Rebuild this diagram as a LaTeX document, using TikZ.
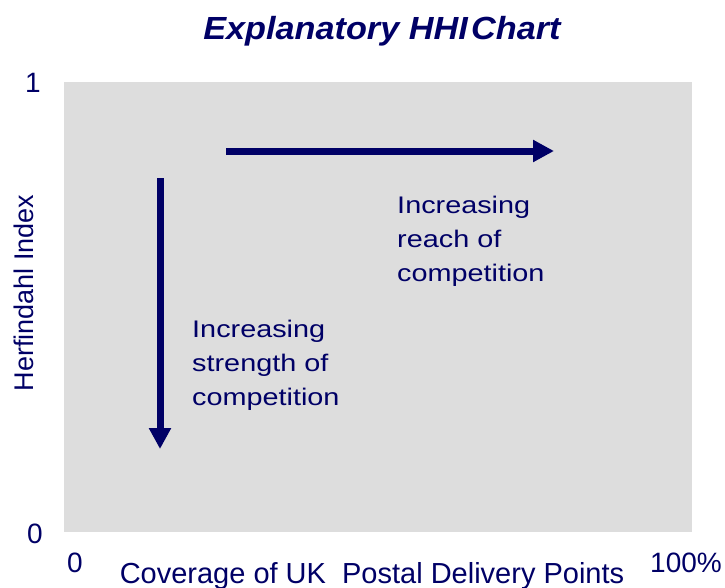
\documentclass[tikz,border=0pt]{standalone}
\usepackage{fontspec}
\setmainfont{Liberation Sans}
\usetikzlibrary{arrows.meta}
\definecolor{hhiblue}{HTML}{000066}
\definecolor{panelgrey}{HTML}{DDDDDD}
\tikzset{
    chart title/.style={font=\fontsize{32}{38}\selectfont\bfseries\itshape, text=hhiblue, inner sep=0pt, xscale=1.07},
    axis text/.style={font=\fontsize{28}{34}\selectfont, text=hhiblue, inner sep=0pt},
    note/.style={font=\fontsize{24}{34}\selectfont, text=hhiblue, align=left, inner sep=0pt, xscale=1.2, anchor=base west},
    push/.style={draw=hhiblue, line width=7pt, -{Triangle[length=21pt, width=21pt]}},
}

\begin{document}
\begin{tikzpicture}[x=1pt, y=-1pt]
    \useasboundingbox (0,0) rectangle (725,587);

    % plot area
    \fill[panelgrey] (64,82) rectangle (692,532);

    \node[chart title, anchor=base] (title) at (382,39) {Explanatory HHI\kern0.1em Chart};

    % axis ends and labels
    \node[axis text, anchor=base] (ymax) at (33,92) {1};
    \node[axis text, anchor=base] (ymin) at (35,543) {0};
    \node[axis text, anchor=base] (xmin) at (75,572) {0};
    \node[axis text, anchor=base] (xmax) at (686,572) {100\%};
    \node[axis text, font=\fontsize{29}{34}\selectfont, anchor=base] (xlabel) at (372,583) {Coverage of UK\ \ Postal Delivery Points};
    \node[axis text, font=\fontsize{27}{32}\selectfont, rotate=90, anchor=base] (ylabel) at (33,293) {Herfindahl Index};

    % the two arrows
    \coordinate (reach start) at (226,151);
    \coordinate (reach end) at (554,151);
    \draw[push] (reach start) -- (reach end);

    \coordinate (strength start) at (160,178);
    \coordinate (strength end) at (160,449);
    \draw[push] (strength start) -- (strength end);

    % base anchor sits on the last line
    \node[note] (reach) at (397,281) {Increasing\\reach of\\competition};
    \node[note] (strength) at (192,405) {Increasing\\strength of\\competition};

\end{tikzpicture}
\end{document}
